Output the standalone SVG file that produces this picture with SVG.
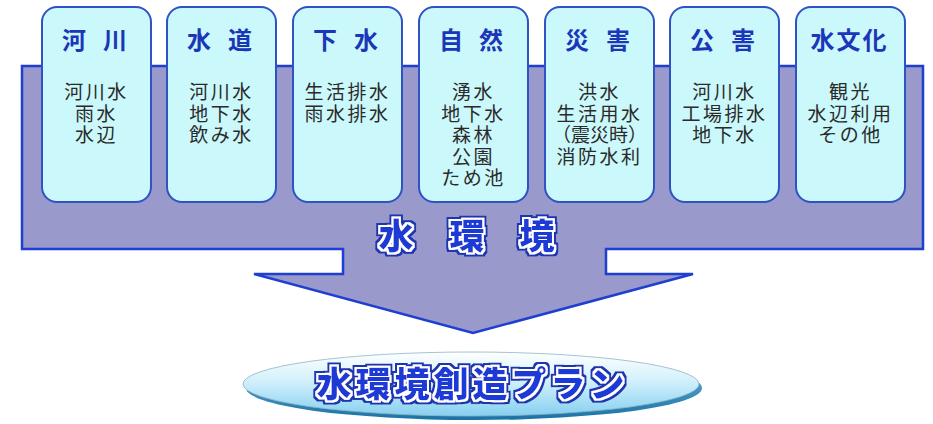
<svg xmlns="http://www.w3.org/2000/svg" width="933" height="424" viewBox="0 0 933 424">
<style>
.box{fill:#CBF8FA;stroke:#2F52C4;stroke-width:2}
.title{font-family:"Noto Sans CJK JP","Noto Sans CJK SC",sans-serif;font-weight:bold;font-size:24px;fill:#1B36B8;text-anchor:middle}
.body{font-family:"Liberation Sans","Noto Sans CJK JP","Noto Sans CJK SC",sans-serif;font-size:19px;fill:#2A2A2A;text-anchor:middle;letter-spacing:2.5px}
.pop{font-family:"Noto Sans CJK JP","Noto Sans CJK SC",sans-serif;font-weight:900;fill:#1C3AD6;filter:url(#outline)}
</style>
<defs>
<filter id="outline" x="-10%" y="-30%" width="120%" height="160%">
<feMorphology in="SourceAlpha" operator="dilate" radius="2.3" result="d1"/>
<feMorphology in="SourceAlpha" operator="dilate" radius="3.5" result="d2"/>
<feFlood flood-color="#1A34B0" result="blue"/>
<feComposite in="blue" in2="d2" operator="in" result="b"/>
<feFlood flood-color="#FFFFFF" result="white"/>
<feComposite in="white" in2="d1" operator="in" result="w"/>
<feMerge><feMergeNode in="b"/><feMergeNode in="w"/><feMergeNode in="SourceGraphic"/></feMerge>
</filter>
<linearGradient id="ellFill" x1="0" y1="0" x2="0" y2="1">
<stop offset="0" stop-color="#FFFFFF"/>
<stop offset="0.45" stop-color="#D2F0FB"/>
<stop offset="1" stop-color="#86D0F0"/>
</linearGradient>
<linearGradient id="ellShadow" x1="0" y1="0" x2="0" y2="1">
<stop offset="0" stop-color="#6FB8DA"/>
<stop offset="1" stop-color="#1B72A6"/>
</linearGradient>
</defs>
<rect width="933" height="424" fill="#FFFFFF"/>

<g id="connectors">
<polygon id="bigArrow" points="22,66 923,66 923,249 606,249 606,274 693,274 473,333 254,274 343,274 343,249 22,249" fill="#9A99CB" stroke="#1F3FD0" stroke-width="2.5" stroke-linejoin="miter"/>
</g>

<g id="node-kasen">
<rect class="box" x="42" y="7" width="109" height="195" rx="15"/>
<text class="title" x="74 115" y="49">河川</text>
<text class="body" y="99"><tspan x="96.5">河川水</tspan><tspan x="96.5" dy="21.6">雨水</tspan><tspan x="96.5" dy="21.6">水辺</tspan></text>
</g>

<g id="node-suido">
<rect class="box" x="167" y="7" width="109" height="195" rx="15"/>
<text class="title" x="199 240" y="49">水道</text>
<text class="body" y="99"><tspan x="221.5">河川水</tspan><tspan x="221.5" dy="21.6">地下水</tspan><tspan x="221.5" dy="21.6">飲み水</tspan></text>
</g>

<g id="node-gesui">
<rect class="box" x="293" y="7" width="109" height="195" rx="15"/>
<text class="title" x="325 366" y="49">下水</text>
<text class="body" y="99"><tspan x="347.5">生活排水</tspan><tspan x="347.5" dy="21.6">雨水排水</tspan></text>
</g>

<g id="node-shizen">
<rect class="box" x="419" y="7" width="109" height="195" rx="15"/>
<text class="title" x="451 491" y="49">自然</text>
<text class="body" y="99"><tspan x="473.5">湧水</tspan><tspan x="473.5" dy="21.6">地下水</tspan><tspan x="473.5" dy="21.6">森林</tspan><tspan x="473.5" dy="21.6">公園</tspan><tspan x="473.5" dy="21.6">ため池</tspan></text>
</g>

<g id="node-saigai">
<rect class="box" x="545" y="7" width="109" height="195" rx="15"/>
<text class="title" x="577 618" y="49">災害</text>
<text class="body" y="99"><tspan x="599.5">洪水</tspan><tspan x="599.5" dy="21.6">生活用水</tspan><tspan x="599.5" dy="21.6" style="letter-spacing:0">（震災時）</tspan><tspan x="599.5" dy="21.6">消防水利</tspan></text>
</g>

<g id="node-kogai">
<rect class="box" x="670" y="7" width="109" height="195" rx="15"/>
<text class="title" x="702 743" y="49">公害</text>
<text class="body" y="99"><tspan x="724.5">河川水</tspan><tspan x="724.5" dy="21.6">工場排水</tspan><tspan x="724.5" dy="21.6">地下水</tspan></text>
</g>

<g id="node-mizubunka">
<rect class="box" x="796" y="7" width="109" height="195" rx="15"/>
<text class="title" x="822.5 848.5 874.5" y="49">水文化</text>
<text class="body" y="99"><tspan x="850.5">観光</tspan><tspan x="850.5" dy="21.6">水辺利用</tspan><tspan x="850.5" dy="21.6">その他</tspan></text>
</g>

<g id="label-mizukankyo">
<text class="pop" x="396 467 537" y="249" font-size="35" text-anchor="middle">水環境</text>
</g>

<g id="node-plan">
<ellipse cx="474" cy="388" rx="228" ry="32" fill="url(#ellShadow)"/>
<ellipse cx="471" cy="384" rx="228" ry="32" fill="url(#ellFill)" stroke="#8FB4C4" stroke-width="0.8"/>
<text class="pop" x="472.5" y="397" font-size="35" text-anchor="middle" letter-spacing="4">水環境創造プラン</text>
</g>
</svg>
